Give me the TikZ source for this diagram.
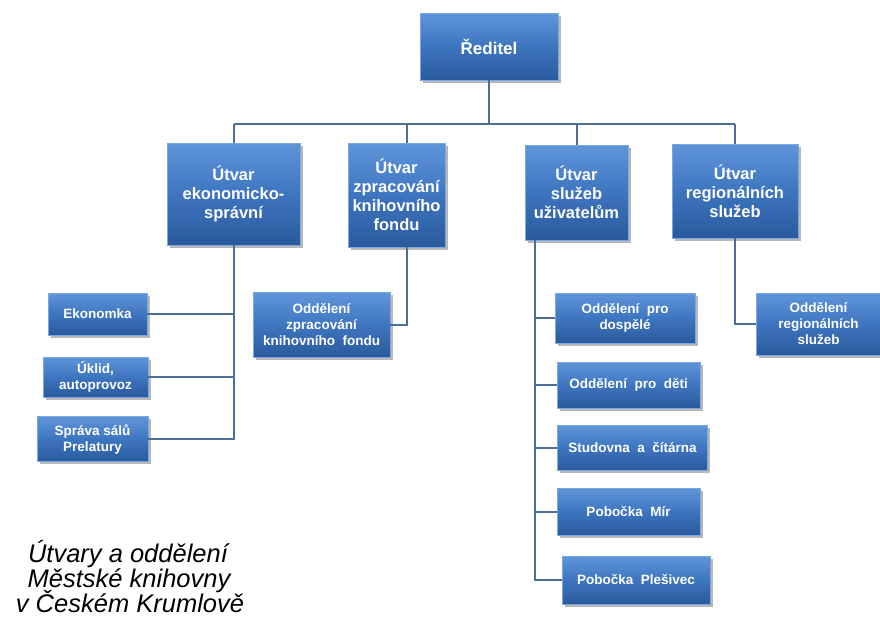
\documentclass[tikz,border=0pt]{standalone}
\usepackage{fontspec}
\setmainfont{Liberation Sans}
\usetikzlibrary{shadows}
\definecolor{boxtop}{HTML}{5E95DA}
\definecolor{boxmid}{HTML}{3E75C0}
\definecolor{boxbot}{HTML}{2A5A9C}
\definecolor{boxedge}{HTML}{7AA8E0}
\definecolor{conn}{HTML}{4B6D9C}
\tikzset{
 orgbox/.style={rectangle, top color=boxtop, bottom color=boxbot, middle color=boxmid, draw=boxedge, line width=0.8pt,
   text=white, align=center, inner sep=2pt,
   drop shadow={shadow xshift=2.5pt, shadow yshift=-2.5pt, opacity=0.4, fill=black!70}},
 bigbox/.style={orgbox, font=\fontsize{16.5}{19}\selectfont\bfseries},
 smallbox/.style={orgbox, font=\fontsize{13.5}{16}\selectfont\bfseries},
 link/.style={draw=conn, line width=2pt},
 captext/.style={font=\fontsize{25.5}{26}\selectfont\itshape, anchor=base, inner sep=0pt}
}
\begin{document}
\begin{tikzpicture}[x=1pt,y=-1pt]
\useasboundingbox (0,0) rectangle (880,619);
% level 1
\node[orgbox, font=\fontsize{17}{20}\selectfont\bfseries, minimum width=138pt, minimum height=67pt] (R) at (489,46.5) {Ředitel};
% level 2
\node[bigbox, minimum width=133pt, minimum height=102pt] (A) at (233.5,194) {Útvar\\ekonomicko-\\správní};
\node[bigbox, minimum width=97pt, minimum height=104pt] (B) at (396.5,195) {Útvar\\zpracování\\knihovního\\fondu};
\node[bigbox, minimum width=103pt, minimum height=95pt] (C) at (576.5,192.5) {Útvar\\služeb\\uživatelům};
\node[bigbox, minimum width=126pt, minimum height=94pt] (D) at (735,191) {Útvar\\regionálních\\služeb};
% level 3 left
\node[smallbox, minimum width=99pt, minimum height=42pt] (E1) at (97.5,314) {Ekonomka};
\node[smallbox, minimum width=105pt, minimum height=40pt] (E2) at (95.5,377) {Úklid,\\autoprovoz};
\node[smallbox, minimum width=111pt, minimum height=45pt] (E3) at (92.5,439) {Správa sálů\\Prelatury};
% level 3 middle
\node[smallbox, minimum width=137pt, minimum height=65pt] (F) at (321.5,325) {Oddělení\\zpracování\\knihovního\ \ fondu};
% level 3 right
\node[smallbox, minimum width=140pt, minimum height=50pt] (G1) at (625,318) {Oddělení\ \ pro\\dospělé};
\node[smallbox, minimum width=143pt, minimum height=46pt] (G2) at (628.5,385) {Oddělení\ \ pro\ \ děti};
\node[smallbox, minimum width=150pt, minimum height=45pt] (G3) at (632.5,447.5) {Studovna\ \ a\ \ čítárna};
\node[smallbox, minimum width=143pt, minimum height=47pt] (G4) at (628.5,511.5) {Pobočka\ \ Mír};
\node[smallbox, minimum width=148pt, minimum height=48pt] (G5) at (636,580) {Pobočka\ \ Plešivec};
\node[smallbox, minimum width=124pt, minimum height=62pt] (H) at (818.5,324) {Oddělení\\regionálních\\služeb};
% caption
\node[captext] (cap1) at (128,562) {Útvary a oddělení};
\node[captext] (cap2) at (129,587) {Městské knihovny};
\node[captext] (cap3) at (130,612) {v Českém Krumlově};
% connectors
\coordinate (busL) at (234,124);
\coordinate (busR) at (735,124);
\coordinate (xB) at (407,124);
\coordinate (xC) at (577,124);
\coordinate (xCd) at (535,0);
\draw[link] (R.south) -- (R.south |- busL);
\draw[link] (busL) -- (busR);
\draw[link] (busL) -- (busL |- A.north);
\draw[link] (xB) -- (xB |- B.north);
\draw[link] (xC) -- (xC |- C.north);
\draw[link] (busR) -- (busR |- D.north);
% left branch
\draw[link] (A.south) -- (A.south |- E3.east) -- (E3.east);
\draw[link] (A.south |- E1.east) -- (E1.east);
\draw[link] (A.south |- E2.east) -- (E2.east);
% middle branch
\draw[link] (xB |- B.south) |- (F.east);
% right branch
\draw[link] (xCd |- C.south) |- (G5.west);
\draw[link] (xCd |- G1.west) -- (G1.west);
\draw[link] (xCd |- G2.west) -- (G2.west);
\draw[link] (xCd |- G3.west) -- (G3.west);
\draw[link] (xCd |- G4.west) -- (G4.west);
% regional branch
\draw[link] (D.south) |- (H.west);
\end{tikzpicture}
\end{document}
